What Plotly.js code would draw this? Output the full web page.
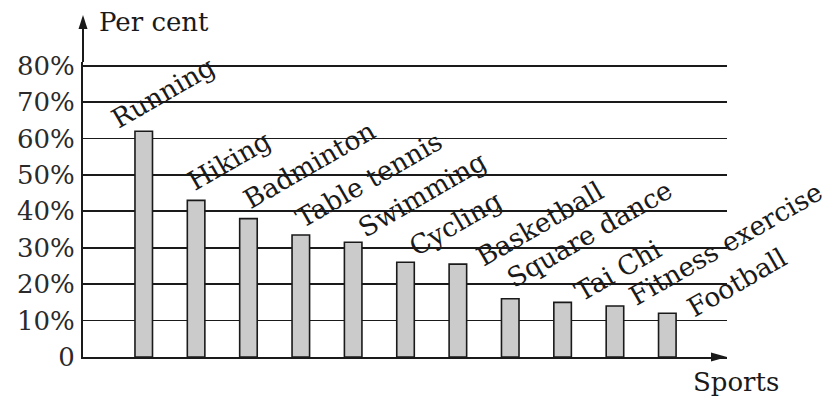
<!DOCTYPE html>
<html>
<head>
<meta charset="utf-8">
<script src="https://cdn.plot.ly/plotly-3.0.1.min.js"></script>
<style>
  html, body { margin: 0; padding: 0; background: #ffffff; }
  #chart { width: 833px; height: 413px; }
</style>
</head>
<body>
<div id="chart"></div>
<script>
// ---- Data ----
const categories = ['Running', 'Hiking', 'Badminton', 'Table tennis', 'Swimming', 'Cycling',
                    'Basketball', 'Square dance', 'Tai Chi', 'Fitness exercise', 'Football'];
const percentValues = [62, 43, 38, 33.5, 31.5, 26, 25.5, 16, 15, 14, 12];
const yTickValues = [0, 10, 20, 30, 40, 50, 60, 70, 80];
const yTickLabels = ['0', '10%', '20%', '30%', '40%', '50%', '60%', '70%', '80%'];
const yAxisLabel = 'Per cent';
const xAxisLabel = 'Sports';

// ---- Layout helpers (pixel offsets of the slanted labels, relative to each bar top) ----
const labelShift = [[19, 39], [33, 40], [61, 54], [68, 55.6], [68.5, 47.9], [49.5, 38.5],
                    [82, 41], [79.6, 64.9], [55, 31.5], [111, 62.2], [69, 31.2]];

const FONT = 'DejaVu Serif';
const INK = '#1a1a1a';

const trace = {
  type: 'bar',
  x: categories,
  y: percentValues,
  width: 0.335,
  marker: { color: '#cbcbcb', line: { color: INK, width: 1.6 } },
  hoverinfo: 'skip'
};

const annotations = categories.map((c, i) => ({
  x: c, y: percentValues[i], xref: 'x', yref: 'y',
  text: c, showarrow: false, textangle: -30,
  xanchor: 'center', yanchor: 'middle',
  xshift: labelShift[i][0], yshift: labelShift[i][1],
  font: { family: FONT, size: 26.5, color: INK }
}));

annotations.push({
  x: 0.022, y: 1.1348, xref: 'paper', yref: 'paper', text: yAxisLabel, showarrow: false,
  xanchor: 'left', yanchor: 'middle', font: { family: FONT, size: 26, color: INK }
});
annotations.push({
  x: 0.944, y: -0.0858, xref: 'paper', yref: 'paper', text: xAxisLabel, showarrow: false,
  xanchor: 'left', yanchor: 'middle', font: { family: FONT, size: 26, color: INK }
});

const shapes = [
  { type: 'line', xref: 'paper', yref: 'paper', x0: 0, x1: 0, y0: 1, y1: 1.15,
    line: { color: INK, width: 2 } },
  { type: 'path', xref: 'paper', yref: 'paper', xsizemode: 'pixel', ysizemode: 'pixel',
    xanchor: 0, yanchor: 1.1596, path: 'M0,0 L-4.5,-14 L4.5,-14 Z',
    fillcolor: INK, line: { width: 0 } },
  { type: 'path', xref: 'paper', yref: 'paper', xsizemode: 'pixel', ysizemode: 'pixel',
    xanchor: 1, yanchor: 0, path: 'M0,0 L-16,4.5 L-16,-4.5 Z',
    fillcolor: INK, line: { width: 0 } }
];

const layout = {
  width: 833, height: 413,
  margin: { l: 83.3, r: 106.3, t: 62.06, b: 56 },
  paper_bgcolor: '#ffffff', plot_bgcolor: '#ffffff',
  showlegend: false,
  font: { family: FONT },
  xaxis: {
    type: 'category', range: [-1.16, 11.14], showticklabels: false, ticks: '',
    showgrid: false, zeroline: false, showline: true, linecolor: INK, linewidth: 2,
    fixedrange: true
  },
  yaxis: {
    range: [0, 81], tickmode: 'array', tickvals: yTickValues, ticktext: yTickLabels,
    showgrid: true, gridcolor: INK, gridwidth: 1.8, zeroline: false,
    showline: true, linecolor: INK, linewidth: 2, ticks: '', ticklabelstandoff: 1,
    tickfont: { family: FONT, size: 26, color: '#2a2a2a' }, fixedrange: true
  },
  annotations: annotations,
  shapes: shapes
};

Plotly.newPlot('chart', [trace], layout, { displayModeBar: false, staticPlot: true });
</script>
</body>
</html>
